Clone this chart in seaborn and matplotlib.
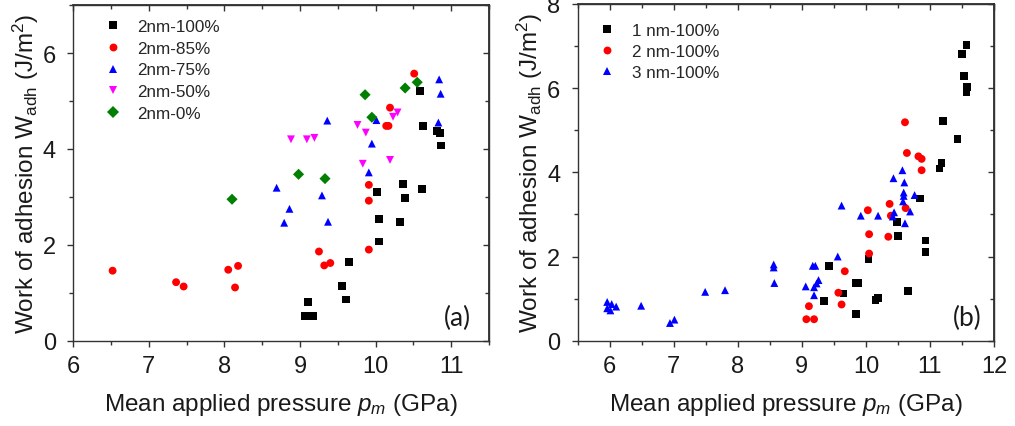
import numpy as np
import pandas as pd
import matplotlib
matplotlib.use("Agg")
import matplotlib.pyplot as plt
import seaborn as sns
from matplotlib.ticker import MultipleLocator

# ---------------- data: panel (a) ----------------
a100_x = [9.07, 9.17, 9.10, 9.56, 9.61, 9.65, 10.02, 10.04, 10.04, 10.32, 10.36, 10.39, 10.59, 10.63, 10.61, 10.81, 10.85, 10.87]
a100_y = [0.51, 0.51, 0.80, 1.14, 0.86, 1.65, 3.10, 2.53, 2.07, 2.48, 3.26, 2.98, 5.20, 4.47, 3.17, 4.38, 4.34, 4.07]
a85_x = [6.52, 7.36, 7.46, 8.05, 8.18, 8.14, 9.25, 9.32, 9.40, 9.91, 9.91, 9.91, 10.14, 10.17, 10.19, 10.51]
a85_y = [1.46, 1.22, 1.13, 1.48, 1.56, 1.11, 1.86, 1.57, 1.62, 3.25, 2.92, 1.90, 4.48, 4.48, 4.86, 5.57]
a75_x = [8.69, 8.86, 8.79, 9.29, 9.36, 9.37, 9.91, 9.95, 10.01, 10.84, 10.86, 10.83]
a75_y = [3.19, 2.75, 2.46, 3.03, 4.59, 2.48, 3.51, 4.11, 4.60, 5.45, 5.15, 4.55]
a50_x = [8.88, 9.09, 9.19, 9.76, 9.87, 9.83, 10.19, 10.23, 10.29]
a50_y = [4.20, 4.20, 4.23, 4.50, 4.34, 3.69, 3.77, 4.67, 4.76]
a0_x = [8.10, 8.98, 9.33, 9.86, 9.95, 10.39, 10.55]
a0_y = [2.95, 3.47, 3.38, 5.13, 4.66, 5.27, 5.39]
a_labels = ["2nm-100%", "2nm-85%", "2nm-75%", "2nm-50%", "2nm-0%"]

# ---------------- data: panel (b) ----------------
b1_x = [11.57, 11.50, 11.53, 11.58, 11.57, 11.21, 11.43, 11.18, 11.15, 10.85, 10.93, 10.93, 10.49, 10.50, 10.66,
        10.04, 10.19, 10.15, 9.84, 9.88, 9.65, 9.84, 9.43, 9.35]
b1_y = [7.03, 6.81, 6.29, 6.02, 5.91, 5.21, 4.79, 4.22, 4.09, 3.38, 2.38, 2.11, 2.81, 2.49, 1.19,
        1.94, 1.01, 0.97, 1.37, 1.37, 1.12, 0.63, 1.78, 0.95]
b2_x = [10.61, 10.64, 10.82, 10.87, 10.87, 10.37, 10.39, 10.62, 10.35, 10.03, 10.05, 10.05, 9.67, 9.57, 9.62, 9.11, 9.07, 9.19]
b2_y = [5.19, 4.46, 4.38, 4.32, 4.05, 3.25, 2.97, 3.15, 2.47, 3.10, 2.53, 2.07, 1.65, 1.14, 0.86, 0.82, 0.51, 0.51]
b3_x = [10.57, 10.43, 10.60, 10.59, 10.59, 10.76, 10.58, 10.44, 10.42, 10.69, 10.61, 10.19, 9.92, 9.62, 9.56,
        9.17, 9.21, 9.26, 9.23, 9.06, 9.19, 9.19, 8.56, 8.56, 8.57, 7.80, 7.49, 6.49, 7.01, 6.94,
        5.96, 6.03, 6.10, 5.96, 6.01]
b3_y = [4.05, 3.86, 3.76, 3.52, 3.44, 3.46, 3.31, 3.05, 2.95, 3.07, 2.79, 2.97, 2.97, 3.21, 2.00,
        1.78, 1.78, 1.44, 1.36, 1.29, 1.27, 1.08, 1.81, 1.74, 1.37, 1.20, 1.16, 0.83, 0.50, 0.42,
        0.92, 0.87, 0.81, 0.77, 0.72]
b_labels = ["1 nm-100%", "2 nm-100%", "3 nm-100%"]

# ---------------- style ----------------
sns.set_theme(style="white")
plt.rcParams["font.family"] = ["Liberation Sans", "DejaVu Sans"]
plt.rcParams["mathtext.fontset"] = "custom"
plt.rcParams["mathtext.rm"] = "Liberation Sans"
plt.rcParams["mathtext.it"] = "Liberation Sans:italic"
plt.rcParams["mathtext.default"] = "regular"

colors_a = ["#000000", "#FF0000", "#0000FF", "#FF00FF", "#007F00"]
markers_a = ["s", "o", "^", "v", "D"]
colors_b = ["#000000", "#FF0000", "#0000FF"]
markers_b = ["s", "o", "^"]

def make_df(xs, ys, labels):
    frames = []
    for x, y, lab in zip(xs, ys, labels):
        frames.append(pd.DataFrame({"x": x, "y": y, "series": lab}))
    return pd.concat(frames, ignore_index=True)

df_a = make_df([a100_x, a85_x, a75_x, a50_x, a0_x], [a100_y, a85_y, a75_y, a50_y, a0_y], a_labels)
df_b = make_df([b1_x, b2_x, b3_x], [b1_y, b2_y, b3_y], b_labels)

fig = plt.figure(figsize=(10.15, 4.27), dpi=100)
ax1 = fig.add_axes([0.0722, 0.1998, 0.4096, 0.786])
ax2 = fig.add_axes([0.5692, 0.1998, 0.4101, 0.7885])

tick_fs = 17
label_fs = 17.5
leg_fs = 12.3

def style_axis(ax, xlim, ylim, xmaj, ymaj):
    ax.set_xlim(*xlim)
    ax.set_ylim(*ylim)
    ax.xaxis.set_major_locator(MultipleLocator(xmaj))
    ax.xaxis.set_minor_locator(MultipleLocator(0.5))
    ax.yaxis.set_major_locator(MultipleLocator(ymaj))
    ax.yaxis.set_minor_locator(MultipleLocator(1))
    for sp in ax.spines.values():
        sp.set_visible(True)
        sp.set_color("#333333")
        sp.set_linewidth(1.0)
    ax.tick_params(which="both", direction="out", colors="#333333", labelcolor="#1a1a1a",
                   labelsize=tick_fs, width=1.0, left=True, bottom=True)
    ax.tick_params(which="major", length=4.5)
    ax.tick_params(which="minor", length=3)
    ax.tick_params(axis="x", which="major", pad=6)
    ax.tick_params(axis="y", which="major", pad=8)
    # mirrored inward ticks on top and right
    sx = ax.secondary_xaxis("top")
    sx.xaxis.set_major_locator(MultipleLocator(xmaj))
    sx.xaxis.set_minor_locator(MultipleLocator(0.5))
    sx.tick_params(which="both", direction="in", labeltop=False, colors="#333333", width=1.0)
    sx.tick_params(which="major", length=4.5)
    sx.tick_params(which="minor", length=3)
    sy = ax.secondary_yaxis("right")
    sy.yaxis.set_major_locator(MultipleLocator(ymaj))
    sy.yaxis.set_minor_locator(MultipleLocator(1))
    sy.tick_params(which="both", direction="in", labelright=False, colors="#333333", width=1.0)
    sy.tick_params(which="major", length=4.5)
    sy.tick_params(which="minor", length=3)
    ax.set_xlabel(r"Mean applied pressure $\mathit{p}_{\mathit{m}}$ (GPa)", fontsize=label_fs, color="#1a1a1a")
    ax.set_ylabel(r"Work of adhesion W$_{\mathrm{adh}}$ (J/m$^{2}$)", fontsize=label_fs, color="#1a1a1a")
    ax.xaxis.set_label_coords(0.5, -0.15)
    ax.yaxis.set_label_coords(-0.078, 0.5)

sns.scatterplot(data=df_a, x="x", y="y", hue="series", style="series",
                palette=dict(zip(a_labels, colors_a)), markers=dict(zip(a_labels, markers_a)),
                hue_order=a_labels, style_order=a_labels, s=32, linewidth=0, ax=ax1)
sns.scatterplot(data=df_b, x="x", y="y", hue="series", style="series",
                palette=dict(zip(b_labels, colors_b)), markers=dict(zip(b_labels, markers_b)),
                hue_order=b_labels, style_order=b_labels, s=32, linewidth=0, ax=ax2)

style_axis(ax1, (6, 11.5), (0, 7), 1, 2)
style_axis(ax2, (5.5, 12), (0, 8), 1, 2)

sns.move_legend(ax1, "upper left", bbox_to_anchor=(0.076, 0.958), frameon=False, title=None,
                fontsize=leg_fs, handlelength=1.0, handletextpad=0.9, labelspacing=0.39,
                borderpad=0, borderaxespad=0)
sns.move_legend(ax2, "upper left", bbox_to_anchor=(0.049, 0.944), frameon=False, title=None,
                fontsize=leg_fs, handlelength=1.0, handletextpad=1.0, labelspacing=0.36,
                borderpad=0, borderaxespad=0)

ax1.text(0.923, 0.07, "(a)", transform=ax1.transAxes, ha="center", va="center", fontsize=19,
         family=["Lato", "DejaVu Sans"], color="#1a1a1a")
ax2.text(0.935, 0.07, "(b)", transform=ax2.transAxes, ha="center", va="center", fontsize=19,
         family=["Lato", "DejaVu Sans"], color="#1a1a1a")

fig.savefig("out.png", dpi=100)
